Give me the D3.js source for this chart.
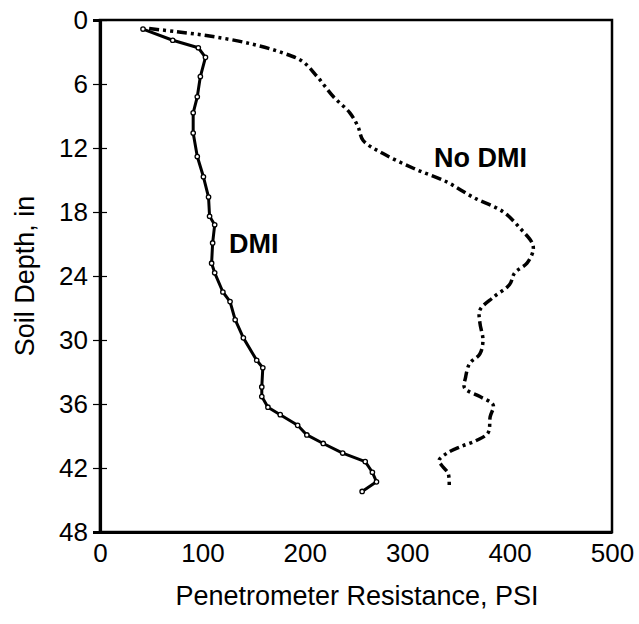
<!DOCTYPE html>
<html>
<head>
<meta charset="utf-8">
<script src="https://cdn.jsdelivr.net/npm/d3@7"></script>
<style>
  body { margin: 0; background: #fff; }
  svg { display: block; font-family: "Liberation Sans", Arial, sans-serif; }
</style>
</head>
<body>
<svg id="chart" width="639" height="624"></svg>
<script>
'use strict';

// tick labels
var xTicks = [0, 100, 200, 300, 400, 500];
var yTicks = [0, 6, 12, 18, 24, 30, 36, 42, 48];

// DMI series: [resistance (psi), depth (in)]
var dmiPsi = [42, 71, 96, 103, 98, 95, 91, 91, 95, 101, 106, 107, 112, 110, 109, 112, 120, 127, 132, 140, 153, 159, 158, 158, 164, 176, 193, 202, 218, 237, 259, 266, 270, 256];
var dmiDepth = [0.85, 1.9, 2.6, 3.5, 5.3, 7.2, 8.7, 10.6, 12.8, 14.7, 16.6, 18.4, 19.2, 20.9, 22.8, 23.7, 25.5, 26.4, 28.1, 29.8, 31.9, 32.6, 34.4, 35.3, 36.3, 37.0, 38.0, 38.9, 39.7, 40.6, 41.4, 42.4, 43.3, 44.2];

// No DMI series
var noDmiPsi = [48, 75, 107, 146, 179, 198, 212, 228, 244, 252, 257, 276, 306, 339, 364, 394, 410, 422, 423, 417, 405, 400, 384, 371, 371, 374, 371, 361, 357, 356, 371, 384, 381, 379, 368, 352, 339, 331, 335, 340, 341];
var noDmiDepth = [0.8, 1.1, 1.5, 2.2, 3.1, 3.9, 5.3, 7.2, 8.7, 10.0, 11.3, 12.5, 13.9, 15.2, 16.6, 18.0, 19.5, 20.9, 21.6, 22.8, 23.7, 24.8, 26.0, 27.2, 28.4, 30.0, 31.3, 32.2, 33.5, 34.5, 35.3, 36.1, 37.2, 38.7, 39.4, 40.0, 40.6, 41.3, 41.9, 42.5, 43.9];

(function () {
    var svg = d3.select('#chart'),
        pLeft = 100, pRight = 612, pTop = 20, pBottom = 532;

    var x = d3.scaleLinear().domain([0, 500]).range([pLeft, pRight]),
        y = d3.scaleLinear().domain([0, 48]).range([pTop, pBottom]);

    //frame
    svg.append('rect')
        .attr('x', pLeft).attr('y', pTop)
        .attr('width', pRight - pLeft).attr('height', pBottom - pTop)
        .attr('fill', 'none').attr('stroke', '#000').attr('stroke-width', 2.5);

    // y axis with crossing ticks
    var yAxis = d3.axisLeft(y).tickValues(yTicks).tickSize(7).tickPadding(5);
    var gy = svg.append('g').attr('transform', 'translate(' + pLeft + ',0)').call(yAxis);
    gy.select('.domain').attr('stroke-width', 3.2);
    gy.selectAll('.tick line').attr('x2', 7).attr('x1', -7).attr('stroke-width', 1.2);
    gy.selectAll('.tick text').attr('font-size', 26).attr('fill', '#000')
        .attr('font-family', '"Liberation Sans", Arial, sans-serif');

    // x axis, no tick marks
    var xAxis = d3.axisBottom(x).tickValues(xTicks).tickSize(0).tickPadding(12);
    var gx = svg.append('g').attr('transform', 'translate(0,' + pBottom + ')').call(xAxis);
    gx.select('.domain').attr('stroke-width', 3.2);
    gx.selectAll('.tick text').attr('font-size', 26).attr('fill', '#000')
        .attr('font-family', '"Liberation Sans", Arial, sans-serif');

    // axis titles
    svg.append('text')
        .attr('x', 357).attr('y', 605)
        .attr('text-anchor', 'middle').attr('font-size', 27)
        .text('Penetrometer Resistance, PSI');

    svg.append('text')
        .attr('transform', 'translate(34,276) rotate(-90)')
        .attr('text-anchor', 'middle').attr('font-size', 27)
        .text('Soil Depth, in');

    // lines
    var dmi = dmiPsi.map(function (v, i) { return [v, dmiDepth[i]]; });
    var noDmi = noDmiPsi.map(function (v, i) { return [v, noDmiDepth[i]]; });

    var smooth = d3.line()
        .x(function (d) { return x(d[0]); })
        .y(function (d) { return y(d[1]); })
        .curve(d3.curveCatmullRom);

    svg.append('path')
        .datum(noDmi)
        .attr('d', smooth)
        .attr('fill', 'none').attr('stroke', '#000')
        .attr('stroke-width', 3.5)
        .attr('stroke-dasharray', '10,4,3,4,3,4');

    var straight = d3.line()
        .x(function (d) { return x(d[0]); })
        .y(function (d) { return y(d[1]); });

    svg.append('path')
        .datum(dmi)
        .attr('d', straight)
        .attr('fill', 'none').attr('stroke', '#000')
        .attr('stroke-width', 3).attr('stroke-linejoin', 'round');

    svg.selectAll('circle.dmi')
        .data(dmi)
        .enter()
        .append('circle')
        .attr('class', 'dmi')
        .attr('cx', function (d) { return x(d[0]); })
        .attr('cy', function (d) { return y(d[1]); })
        .attr('r', 2.2)
        .attr('fill', '#fff').attr('stroke', '#000').attr('stroke-width', 1.3);

    // series labels
    svg.append('text')
        .attr('x', 229).attr('y', 253)
        .attr('font-size', 27).attr('font-weight', 'bold')
        .text('DMI');

    svg.append('text')
        .attr('x', 434).attr('y', 167)
        .attr('font-size', 27).attr('font-weight', 'bold')
        .text('No DMI');
})();
</script>
</body>
</html>
